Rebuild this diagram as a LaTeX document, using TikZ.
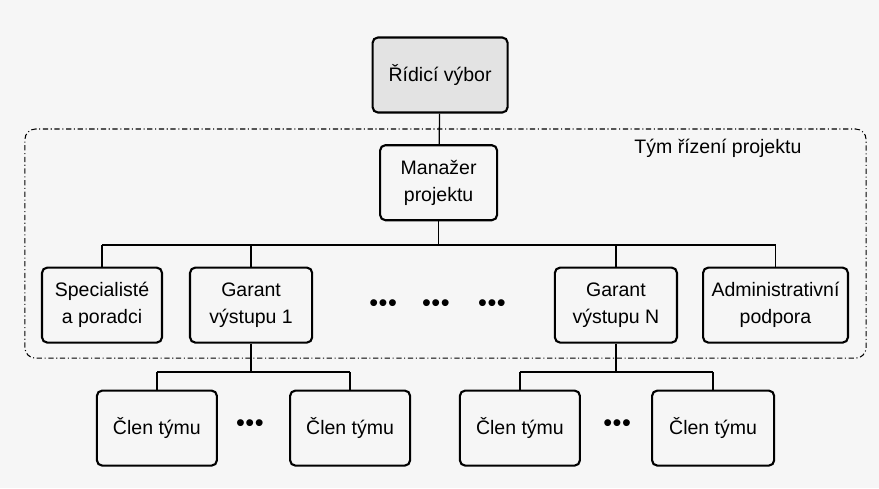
\documentclass[tikz,border=0pt]{standalone}
\usepackage{fontspec}
\setmainfont{Liberation Sans}
\begin{document}
\begin{tikzpicture}[
	block/.style={
		draw,
		line width=2pt,
		rounded corners=5pt,
		align=center,
		inner sep=3pt,
		minimum width=4cm,
		minimum height=2.5cm,
		font=\fontsize{18.5}{26}\selectfont,
	},
	label/.style={
		font=\fontsize{18.5}{26}\selectfont,
	},
	dots/.style={
		font=\fontsize{24}{26}\selectfont,
	},
	link/.style={
		line width=1.2pt,
	}
]

\useasboundingbox[fill=gray!7] (0,0) rectangle (29.3,16.27);

% team frame
\draw[dash pattern=on 5pt off 2.5pt on 1pt off 2.5pt, line width=1pt, rounded corners=10pt] (0.83,4.33) rectangle (28.87,11.97);
\node[label] (tym) at (23.93,11.33) {Tým řízení projektu};

\node[block, fill=gray!22, minimum width=4.5cm] (rv) at (14.67,13.77) {Řídicí výbor};
\node[block, minimum width=3.9cm] (mp) at (14.62,10.18) {Manažer\\projektu};

\node[block] (sp) at (3.4,6.1) {Specialisté\\a poradci};
\node[block, minimum width=4.07cm] (g1) at (8.37,6.1) {Garant\\výstupu 1};
\node[block, minimum width=4.07cm] (gn) at (20.53,6.1) {Garant\\výstupu N};
\node[block, minimum width=4.83cm] (ad) at (25.85,6.1) {Administrativní\\podpora};

\node[dots] (d1) at (12.77,6.1) {\textbullet\kern0.5pt\textbullet\kern0.5pt\textbullet};
\node[dots] (d2) at (14.53,6.1) {\textbullet\kern0.5pt\textbullet\kern0.5pt\textbullet};
\node[dots] (d3) at (16.4,6.1) {\textbullet\kern0.5pt\textbullet\kern0.5pt\textbullet};

\node[block] (c1) at (5.23,2.0) {Člen týmu};
\node[block] (c2) at (11.67,2.0) {Člen týmu};
\node[block] (c3) at (17.33,2.0) {Člen týmu};
\node[block, minimum width=4.07cm] (c4) at (23.77,2.0) {Člen týmu};

\node[dots] (d4) at (8.33,2.07) {\textbullet\kern0.5pt\textbullet\kern0.5pt\textbullet};
\node[dots] (d5) at (20.57,2.07) {\textbullet\kern0.5pt\textbullet\kern0.5pt\textbullet};

\coordinate (bus) at (0,8.1);
\coordinate (busa) at (0,3.87);

\draw[link] (rv) -- (mp);
\draw[link] (mp) -- (mp |- bus);
\draw[link] (sp.north |- bus) -- (ad.north |- bus);
\draw[link] (sp) -- (sp |- bus);
\draw[link] (g1) -- (g1 |- bus);
\draw[link] (gn) -- (gn |- bus);
\draw[link] (ad) -- (ad |- bus);

\draw[link] (g1) -- (g1 |- busa);
\draw[link] (c1.north |- busa) -- (c2.north |- busa);
\draw[link] (c1) -- (c1 |- busa);
\draw[link] (c2) -- (c2 |- busa);

\draw[link] (gn) -- (gn |- busa);
\draw[link] (c3.north |- busa) -- (c4.north |- busa);
\draw[link] (c3) -- (c3 |- busa);
\draw[link] (c4) -- (c4 |- busa);

\end{tikzpicture}
\end{document}
